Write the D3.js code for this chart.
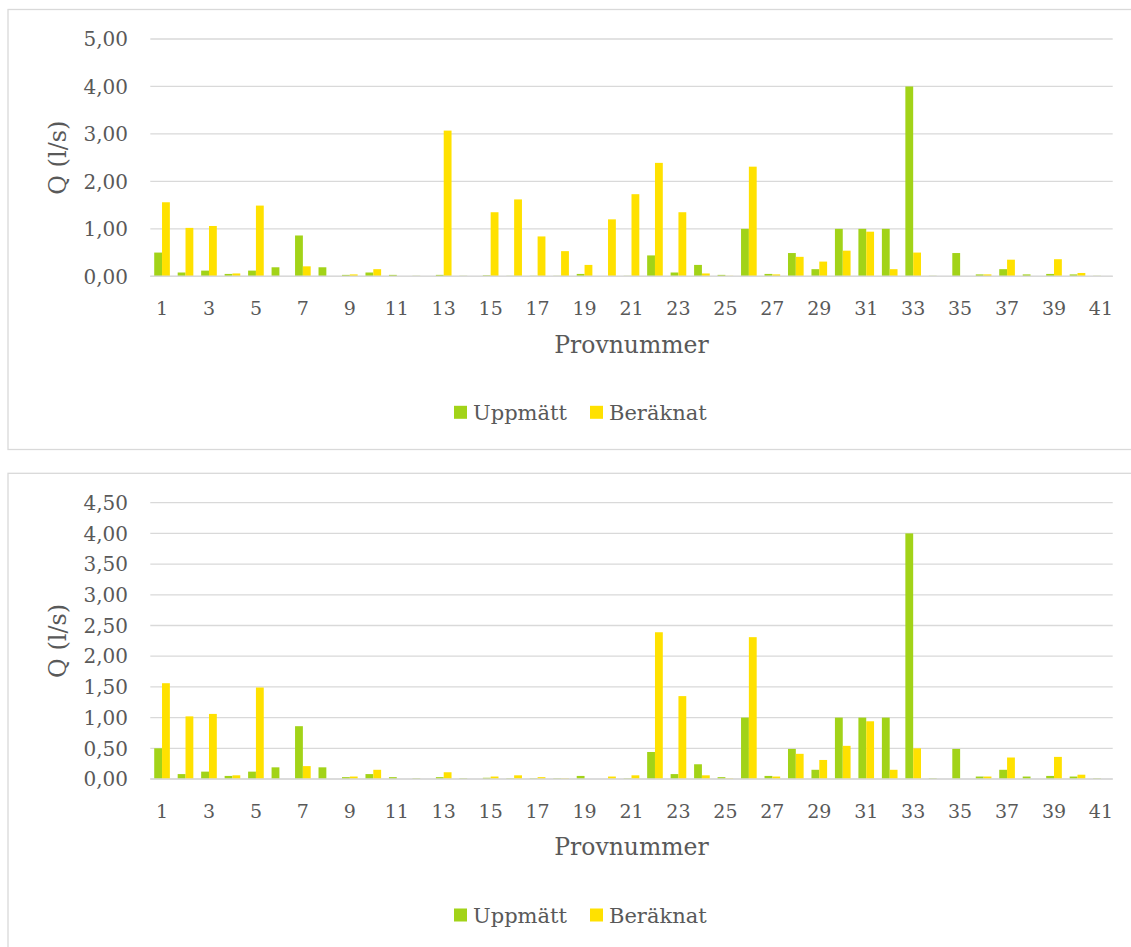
<!DOCTYPE html>
<html>
<head>
<meta charset="utf-8">
<script src="https://cdn.jsdelivr.net/npm/d3@7"></script>
<style>
  html, body { margin: 0; padding: 0; background: #fff; }
  svg { display: block; }
  text { font-family: Georgia, "DejaVu Serif", serif; fill: #595959; }
</style>
</head>
<body>
<svg id="chart" width="1131" height="947"></svg>
<script>
// ---- Data ----
const categories = [1,2,3,4,5,6,7,8,9,10,11,12,13,14,15,16,17,18,19,20,21,22,23,24,25,26,27,28,29,30,31,32,33,34,35,36,37,38,39,40,41];
const tickLabels = [1,3,5,7,9,11,13,15,17,19,21,23,25,27,29,31,33,35,37,39,41];
const seriesNames = ["Uppmätt", "Beräknat"];

const uppmatt = [0.50,0.08,0.12,0.05,0.12,0.19,0.86,0.19,0.03,0.08,
                 0.03,0.01,0.03,0.01,0.02,0.01,0.01,0.01,0.05,0.00,
                 0.01,0.44,0.08,0.24,0.03,1.00,0.05,0.49,0.15,1.00,
                 1.00,1.00,4.00,0.01,0.49,0.04,0.15,0.04,0.05,0.04,0.01];

const beraknatTop = [1.56,1.02,1.06,0.06,1.49,0.00,0.21,0.00,0.04,0.15,
                     0.00,0.00,3.07,0.00,1.35,1.62,0.84,0.53,0.24,1.20,
                     1.73,2.39,1.35,0.06,0.01,2.31,0.04,0.41,0.31,0.54,
                     0.94,0.15,0.50,0.00,0.00,0.04,0.35,0.00,0.36,0.07,0.00];

const beraknatBottom = [1.56,1.02,1.06,0.06,1.49,0.00,0.21,0.00,0.04,0.15,
                        0.00,0.00,0.11,0.00,0.04,0.06,0.03,0.01,0.00,0.04,
                        0.06,2.39,1.35,0.06,0.01,2.31,0.04,0.41,0.31,0.54,
                        0.94,0.15,0.50,0.00,0.00,0.04,0.35,0.00,0.36,0.07,0.00];

const yTicksTop = [0,1,2,3,4,5];
const yTicksBottom = [0,0.5,1,1.5,2,2.5,3,3.5,4,4.5];

const colors = { "Uppmätt": "#A2D318", "Beräknat": "#FFE100" };

// ---- Drawing ----
const svg = d3.select("#chart");
const fmt = d3.formatLocale({decimal: ",", thousands: " ", grouping: [3], currency: ["", ""]}).format(".2f");

function drawChart(cfg) {
  const g = svg.append("g");
  // frame
  g.append("rect")
    .attr("x", 8).attr("y", cfg.frameTop)
    .attr("width", 1140).attr("height", cfg.frameHeight)
    .attr("fill", "#fff").attr("stroke", "#D9D9D9").attr("stroke-width", 1.3);

  const left = 150.3, right = 1112.7;
  const y = d3.scaleLinear().domain([0, cfg.yMax]).range([cfg.plotBottom, cfg.plotTop]);
  const x0 = d3.scaleBand().domain(categories).range([left, right]).padding(0);
  const bw = x0.bandwidth();
  const x1 = d3.scaleBand().domain(seriesNames).range([bw / 6, bw * 5 / 6]).padding(0);

  // gridlines
  g.append("g").selectAll("line").data(cfg.yTicks).join("line")
    .attr("x1", left).attr("x2", right)
    .attr("y1", d => y(d)).attr("y2", d => y(d))
    .attr("stroke", "#D9D9D9").attr("stroke-width", 1.3);

  // y tick labels
  g.append("g").selectAll("text").data(cfg.yTicks).join("text")
    .attr("x", 128).attr("y", d => y(d))
    .attr("dy", "0.36em")
    .attr("text-anchor", "end")
    .attr("font-size", 20)
    .text(d => fmt(d));

  // bars
  const rows = categories.map((c, i) => ({ c, vals: [
    { s: "Uppmätt", v: uppmatt[i] },
    { s: "Beräknat", v: cfg.beraknat[i] }
  ]}));
  g.append("g").selectAll("g").data(rows).join("g")
    .attr("transform", d => `translate(${x0(d.c)},0)`)
    .selectAll("rect").data(d => d.vals).join("rect")
    .attr("x", d => x1(d.s))
    .attr("width", x1.bandwidth())
    .attr("y", d => y(d.v))
    .attr("height", d => y(0) - y(d.v))
    .attr("fill", d => colors[d.s]);

  // baseline
  g.append("line")
    .attr("x1", left).attr("x2", right)
    .attr("y1", y(0)).attr("y2", y(0))
    .attr("stroke", "#D9D9D9").attr("stroke-width", 1.5);

  // x tick labels
  g.append("g").selectAll("text").data(tickLabels).join("text")
    .attr("x", d => x0(d) + bw / 2)
    .attr("y", y(0) + 32)
    .attr("dy", "0.36em")
    .attr("text-anchor", "middle")
    .attr("font-size", 19)
    .text(d => d);

  // axis titles
  g.append("text")
    .attr("x", (left + right) / 2).attr("y", cfg.plotBottom + 68)
    .attr("dy", "0.36em")
    .attr("text-anchor", "middle").attr("font-size", 23.5)
    .text("Provnummer");
  g.append("text")
    .attr("transform", `translate(57,${(cfg.plotTop + cfg.plotBottom) / 2}) rotate(-90)`)
    .attr("dy", "0.36em")
    .attr("text-anchor", "middle").attr("font-size", 24)
    .text("Q (l/s)");

  // legend
  const ly = cfg.plotBottom + 136;
  const leg = g.append("g");
  const items = [{ s: "Uppmätt", x: 454 }, { s: "Beräknat", x: 590 }];
  items.forEach(it => {
    leg.append("rect").attr("x", it.x).attr("y", ly - 6.5)
      .attr("width", 13).attr("height", 13).attr("fill", colors[it.s]);
    leg.append("text").attr("x", it.x + 19).attr("y", ly)
      .attr("dy", "0.36em").attr("font-size", 21).text(it.s);
  });
}

drawChart({ frameTop: 9.5, frameHeight: 440, plotTop: 39, plotBottom: 276.3, yMax: 5, yTicks: yTicksTop, beraknat: beraknatTop });
drawChart({ frameTop: 473.3, frameHeight: 500, plotTop: 502.7, plotBottom: 779, yMax: 4.5, yTicks: yTicksBottom, beraknat: beraknatBottom });
</script>
</body>
</html>
